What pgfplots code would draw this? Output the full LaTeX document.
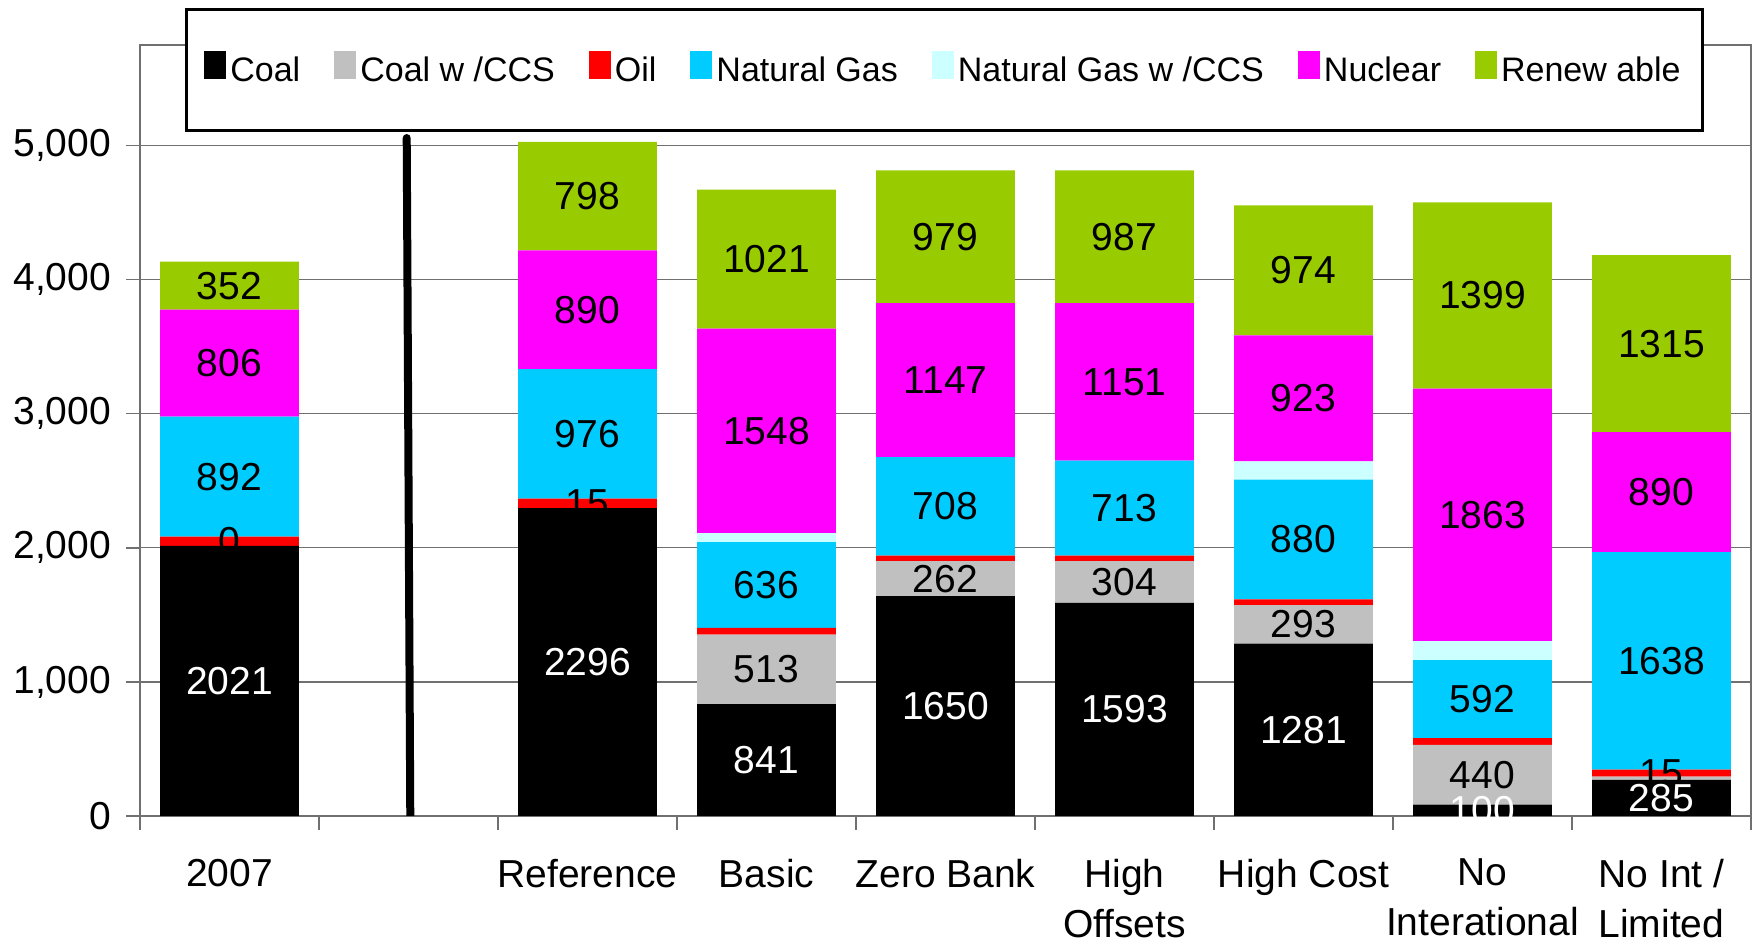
\documentclass[border=0pt]{standalone}
\usepackage{pgfplots}
\pgfplotsset{compat=1.18}
\usepackage{pgfplotstable}
\usepackage{fontspec}
\setmainfont{Liberation Sans}
\definecolor{cCoal}{HTML}{000000}
\definecolor{cCCS}{HTML}{C0C0C0}
\definecolor{cOil}{HTML}{FF0000}
\definecolor{cNG}{HTML}{00CCFF}
\definecolor{cNGCCS}{HTML}{CCFFFF}
\definecolor{cNuc}{HTML}{FF00FF}
\definecolor{cRen}{HTML}{99CC00}
\definecolor{axc}{HTML}{707070}

\pgfplotstableread{
x y lab
0 2015 2021
2 2296 2296
3 835 841
4 1640 1650
5 1589 1593
6 1285 1281
7 85 100
8 270 285
}\coal
\pgfplotstableread{
x y lab
0 0 {}
2 0 {}
3 517 513
4 260 262
5 311 304
6 287 293
7 446 440
8 24 {}
}\ccs
\pgfplotstableread{
x y lab
0 68 0
2 70 15
3 51 {}
4 41 {}
5 41 {}
6 44 {}
7 50 {}
8 51 15
}\oil
\pgfplotstableread{
x y lab
0 895 892
2 967 976
3 639 636
4 736 708
5 709 713
6 892 880
7 582 592
8 1623 1638
}\ng
\pgfplotstableread{
x y
0 0
2 0
3 68
4 0
5 0
6 136
7 142
8 0
}\ngccs
\pgfplotstableread{
x y lab
0 798 806
2 886 890
3 1524 1548
4 1147 1147
5 1174 1151
6 940 923
7 1883 1863
8 895 890
}\nuc
\pgfplotstableread{
x y lab
0 359 352
2 808 798
3 1038 1021
4 990 979
5 990 987
6 970 974
7 1389 1399
8 1319 1315
}\ren

\pgfplotsset{
  seglab/.style={
    nodes near coords,
    point meta=explicit symbolic,
    every node near coord/.style={font=\fontsize{19.5}{21}\selectfont, anchor=center, inner sep=0pt},
  },
  base/.style={
    at={(0,0)}, anchor=south west,
    scale only axis, width=805.5pt, height=385.5pt,
    xmin=-0.5, xmax=8.5, ymin=0, ymax=5750,
  }
}

\begin{document}
\begin{tikzpicture}
\begin{axis}[
  base,
  ybar stacked, bar width=0.776,
  xtick={-0.5,0.5,...,8.5},
  x tick label as interval,
  xticklabels={2007,,Reference,Basic,Zero Bank,High\\Offsets,High Cost,No\\Interational,No Int /\\Limited},
  xticklabel style={align=center, font=\fontsize{19.5}{25}\selectfont, anchor=north, yshift=-11pt},
  ytick={0,1000,...,5000},
  yticklabels={0,{1,000},{2,000},{3,000},{4,000},{5,000}},
  yticklabel style={font=\fontsize{19.5}{22}\selectfont, xshift=-4pt},
  tick align=outside, tick pos=left,
  major tick length=7pt,
  tick style={draw=axc, line width=0.7pt},
  axis line style={draw=axc, line width=0.7pt},
  ymajorgrids,
  grid style={draw=axc, line width=0.6pt},
  legend columns=7,
  legend cell align=left,
  legend style={at={(0.4994,0.9676)}, anchor=center, draw=black, line width=1.5pt, fill=white,
    font=\fontsize{17}{18}\selectfont, inner xsep=9pt, inner ysep=21pt,
    /tikz/every even column/.append style={column sep=15pt}},
  legend image code/.code={\fill[#1] (0pt,-4pt) rectangle (11pt,10pt);},
]
\addplot[fill=cCoal, draw=none, seglab, every node near coord/.append style={text=white}] table[x=x,y=y,meta=lab]{\coal};
\addplot[fill=cCCS, draw=none, seglab] table[x=x,y=y,meta=lab]{\ccs};
\addplot[fill=cOil, draw=none, seglab] table[x=x,y=y,meta=lab]{\oil};
\addplot[fill=cNG, draw=none, seglab] table[x=x,y=y,meta=lab]{\ng};
\addplot[fill=cNGCCS, draw=none] table[x=x,y=y]{\ngccs};
\addplot[fill=cNuc, draw=none, seglab] table[x=x,y=y,meta=lab]{\nuc};
\addplot[fill=cRen, draw=none, seglab] table[x=x,y=y,meta=lab]{\ren};
\legend{Coal, Coal w /CCS, Oil, Natural Gas, Natural Gas w /CCS, Nuclear, Renew able}
\end{axis}
\begin{axis}[base, hide axis]
\addplot[black, line width=4pt, line cap=round] coordinates {(1.01,0) (0.99,5056)};
\end{axis}
\pgfresetboundingbox
\useasboundingbox (-70pt,-62pt) rectangle (807.5pt,408pt);
\end{tikzpicture}
\end{document}
